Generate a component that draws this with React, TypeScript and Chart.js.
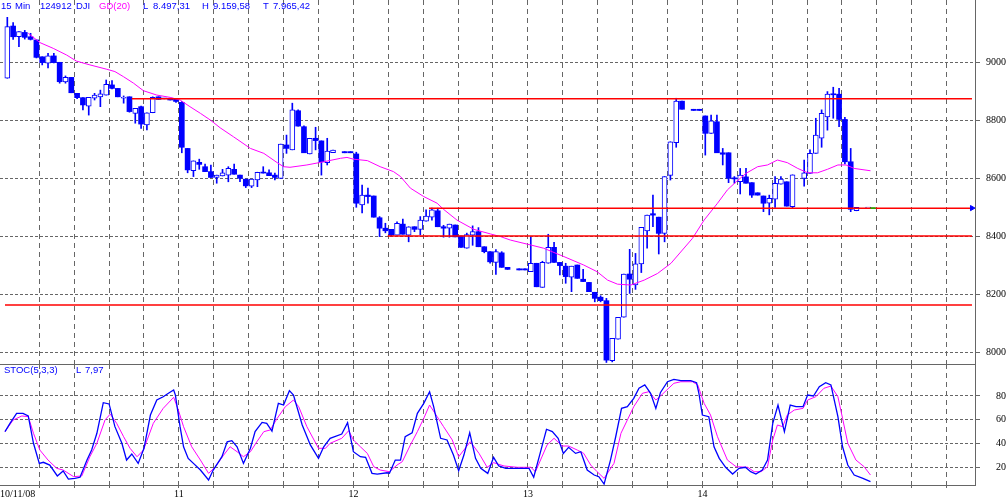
import React, { useEffect, useRef } from 'react';
import { Chart, registerables } from 'chart.js';

Chart.register(...registerables);

const BLUE = '#0000ff';
const MAGENTA = '#ff00ff';
const GRID = '#666666';
const RED = '#ff0000';
const GREEN = '#00c000';
const CLEAR = 'rgba(0,0,0,0)';
const SERIF = '"Liberation Serif", "Times New Roman", serif';
const SANS = '"Liberation Sans", Arial, sans-serif';

// x axis in bar-index units (15-minute bars, 30 per day)
const xMin = -1.257;
const xMax = 166.37;
const gridBars = [5.5, 11.5, 17.5, 23.5, 29.5, 35.5, 41.5, 47.5, 53.5, 59.5, 65.5, 71.5, 77.5, 83.5, 89.5, 95.5, 101.5, 107.5, 113.5, 119.5, 125.5, 131.5, 137.5, 143.5, 149.5, 155.5, 161.5];
const firstDayLabel = '10/11/08';
const dayTickAt = [29.5, 59.5, 89.5, 119.5];
const dayTickText = ['11', '12', '13', '14'];

const priceTicks = [8000, 8200, 8400, 8600, 8800, 9000];
const stochTicks = [20, 40, 60, 80];

const opens = [
  8945, 9125, 9088, 9103, 9088, 9077, 9019, 8997, 9022, 9000, 8932, 8948, 8893, 8878, 8849, 8876, 8881, 8887, 8922, 8910, 8876, 8881, 8824, 8847, 8784, 8826, 8881, 8874, 8876, 8874,
  8862, 8703, 8626, 8655, 8640, 8623, 8603, 8608, 8611, 8631, 8611, 8597, 8573, 8594, 8621, 8619, 8611, 8600, 8715, 8698, 8833, 8778, 8684, 8738, 8729, 8654, 8688, null, 8692, 8692,
  8684, 8508, 8542, 8539, 8464, 8428, 8424, 8404, 8442, 8404, 8433, 8424, 8452, 8466, 8488, 8433, 8428, 8439, 8401, 8359, 8404, 8416, 8364, 8347, 8310, 8343, 8293, null, 8288, 8288,
  8278, 8307, 8224, 8307, 8362, 8310, 8297, 8259, 8301, 8252, 8241, 8207, 8190, 8178, 7971, 8045, 8121, 8270, 8232, 8305, 8419, 8478, 8466, 8410, 8610, 8723, 8866, null, 8838, 8838,
  8815, 8755, 8795, 8688, 8688, 8600, 8588, 8605, 8585, 8550, 8539, 8514, 8528, 8580, 8588, 8502, null, 8600, 8617, 8686, 8738, 8812, 8890, 8890, 8803, 8657, 8488, null, 8497,
];
const highs = [
  9155, 9137, 9106, 9110, 9100, 9077, 9019, 9031, 9031, 9000, 8953, 8948, 8893, 8878, 8879, 8893, 8904, 8939, 8937, 8910, 8884, 8881, 8841, 8849, 8826, 8881, 8881, 8874, 8876, 8874,
  8865, 8703, 8660, 8666, 8649, 8646, 8611, 8631, 8640, 8649, 8611, 8597, 8597, 8621, 8640, 8629, 8618, 8718, 8749, 8859, 8836, 8781, 8738, 8776, 8729, 8738, 8697, null, 8692, 8692,
  8690, 8577, 8566, 8539, 8468, 8445, 8424, 8450, 8459, 8433, 8433, 8468, 8491, 8497, 8497, 8438, 8442, 8439, 8401, 8411, 8436, 8430, 8364, 8347, 8354, 8347, 8293, null, 8288, 8288,
  8397, 8307, 8314, 8407, 8379, 8310, 8307, 8297, 8301, 8286, 8241, 8207, 8195, 8186, 8048, 8121, 8270, 8355, 8341, 8431, 8473, 8542, 8466, 8606, 8726, 8876, 8866, null, 8838, 8838,
  8815, 8818, 8818, 8703, 8688, 8606, 8634, 8634, 8585, 8550, 8539, 8542, 8606, 8606, 8588, 8612, null, 8663, 8698, 8807, 8836, 8899, 8914, 8910, 8810, 8703, 8500, null, 8497,
];
const lows = [
  8945, 9079, 9054, 9080, 9077, 9015, 8991, 8981, 8998, 8928, 8928, 8895, 8875, 8836, 8818, 8870, 8847, 8887, 8908, 8881, 8859, 8828, 8790, 8772, 8767, 8826, 8872, 8874, 8870, 8862,
  8688, 8619, 8606, 8631, 8623, 8603, 8583, 8608, 8588, 8614, 8588, 8568, 8568, 8571, 8618, 8609, 8594, 8600, 8686, 8698, 8780, 8688, 8684, 8698, 8611, 8646, 8688, null, 8688, 8688,
  8500, 8481, 8514, 8466, 8399, 8412, 8400, 8404, 8407, 8381, 8416, 8405, 8452, 8456, 8433, 8397, 8397, 8398, 8362, 8359, 8369, 8364, 8343, 8307, 8269, 8293, 8286, null, 8284, 8284,
  8278, 8226, 8224, 8307, 8310, 8267, 8238, 8209, 8255, 8244, 8209, 8174, 8174, 7965, 7967, 8045, 8121, 8203, 8217, 8275, 8359, 8433, 8339, 8381, 8594, 8707, 8838, null, 8834, 8834,
  8680, 8755, 8688, 8646, 8585, 8583, 8546, 8583, 8534, 8542, 8485, 8474, 8500, 8580, 8504, 8497, null, 8573, 8617, 8686, 8707, 8766, 8807, 8778, 8650, 8485, 8488, null, 8497,
];
const closes = [
  9123, 9088, 9106, 9086, 9079, 9017, 8999, 9022, 8999, 8933, 8948, 8895, 8878, 8853, 8879, 8887, 8891, 8924, 8910, 8881, 8876, 8830, 8841, 8787, 8826, 8879, 8872, 8874, 8870, 8865,
  8707, 8629, 8660, 8648, 8623, 8603, 8611, 8619, 8634, 8614, 8600, 8574, 8597, 8621, 8618, 8609, 8603, 8718, 8703, 8836, 8780, 8688, 8738, 8730, 8657, 8694, 8697, null, 8688, 8688,
  8514, 8542, 8537, 8466, 8428, 8419, 8404, 8445, 8407, 8433, 8424, 8456, 8470, 8491, 8433, 8428, 8442, 8398, 8362, 8406, 8416, 8364, 8347, 8312, 8347, 8293, 8286, null, 8284, 8284,
  8307, 8226, 8310, 8362, 8310, 8299, 8261, 8297, 8255, 8244, 8209, 8186, 8178, 7973, 8048, 8121, 8270, 8252, 8305, 8431, 8473, 8473, 8410, 8606, 8726, 8866, 8838, null, 8834, 8834,
  8755, 8798, 8688, 8683, 8600, 8598, 8611, 8583, 8542, 8542, 8514, 8531, 8583, 8597, 8504, 8612, null, 8619, 8686, 8749, 8824, 8890, 8888, 8803, 8657, 8493, 8500, null, 8497,
];

// GD(20) moving average as [bar, value]
const maPoints = [
  [3.6, 9100], [5.6, 9068], [7.9, 9048], [10.2, 9025], [11.9, 9004], [14.2, 8991], [17.1, 8976], [18.5, 8968], [20.0, 8950], [21.7, 8928], [23.4, 8902], [25.7, 8887], [28.0, 8879], [29.7, 8870], [31.4, 8847], [33.2, 8824], [34.9, 8801], [36.6, 8774], [38.9, 8743], [41.8, 8703], [44.1, 8686], [46.4, 8654], [47.5, 8640], [48.6, 8638], [51.5, 8646], [54.4, 8657], [57.3, 8669], [58.4, 8672], [59.5, 8666], [61.9, 8661], [64.1, 8640], [66.4, 8623], [67.6, 8606], [69.3, 8566], [71.6, 8537], [73.9, 8514], [75.0, 8493], [77.3, 8456], [80.2, 8424], [83.1, 8408], [84.8, 8399], [86.5, 8387], [90.0, 8370], [92.2, 8359], [95.7, 8330], [99.1, 8301], [101.4, 8278], [103.2, 8249], [104.9, 8235], [107.2, 8232], [109.5, 8249], [111.8, 8272], [114.1, 8307], [117.8, 8393], [119.8, 8456], [122.1, 8514], [123.8, 8560], [125.3, 8588], [127.0, 8617], [129.0, 8640], [130.7, 8646], [132.4, 8663], [134.1, 8654], [135.9, 8634], [137.6, 8619], [139.3, 8619], [141.0, 8631], [142.8, 8646], [144.2, 8646], [145.6, 8634], [148.4, 8626],
];

// Stochastic (5,3,3): %K (blue) and %D (magenta) as [bar, value]
const stochK = [
  [-0.4, 50], [0.46, 57], [1.6, 65.4], [2.7, 65.4], [3.6, 63.2], [4.5, 40.2], [5.5, 23.3], [6.2, 24.2], [7.3, 21.9], [8.6, 12.7], [9.6, 16.9], [10.5, 10.1], [11.6, 10.7], [12.5, 11.6], [13.7, 26.1], [14.5, 34.5], [15.4, 48.6], [16.5, 74.4], [17.5, 73.3], [18.5, 54.2], [19.7, 40.2], [20.5, 26.1], [21.4, 31.2], [22.5, 23.3], [23.5, 36], [24.6, 64], [25.7, 76.6], [26.8, 79.4], [27.7, 82.3], [28.6, 85], [28.9, 80.8], [29.7, 54.2], [30.3, 37.3], [31.1, 27.5], [32.0, 23.3], [33.2, 17.7], [34.6, 9.3], [35.4, 17.7], [36.9, 28.9], [37.8, 41.5], [38.6, 42.4], [39.5, 37.3], [40.6, 23.3], [41.8, 36], [42.6, 50], [43.8, 57.8], [44.6, 57], [45.5, 50.5], [46.6, 73.8], [47.5, 72.4], [48.5, 84.5], [49.2, 80.8], [50.7, 55.6], [52.1, 38.8], [53.5, 27.5], [54.4, 37.3], [55.5, 44.4], [57.5, 48], [58.5, 57.5], [59.5, 33.1], [60.7, 28.9], [61.6, 28.4], [62.7, 14.9], [63.6, 14.3], [65.3, 15.4], [65.7, 14.9], [66.7, 26.1], [67.6, 26.1], [68.4, 45.7], [69.6, 49.1], [70.5, 65.4], [71.6, 73.8], [72.6, 83.6], [73.3, 71], [74.5, 44.4], [75.6, 43], [76.7, 30.3], [77.6, 17.1], [78.5, 30.3], [79.5, 49.1], [80.5, 27.5], [81.4, 19.1], [82.6, 14.9], [83.6, 28.4], [84.5, 21.1], [85.7, 19.1], [89.7, 19.1], [90.5, 11.6], [91.6, 31.7], [92.7, 52], [93.7, 50], [94.7, 44.4], [95.6, 31.7], [96.5, 36.8], [97.7, 31.7], [98.6, 33.1], [99.7, 17.7], [100.9, 13.5], [101.7, 12.1], [102.6, 5.9], [103.7, 26.1], [104.6, 45.7], [105.6, 69.6], [106.6, 71], [107.7, 78], [108.6, 86.5], [109.6, 89.3], [110.6, 82.3], [111.5, 69.6], [112.3, 83], [113.5, 92], [114.6, 94], [115.8, 92.9], [117.5, 92.9], [118.5, 91.2], [118.9, 82.3], [119.5, 64], [120.6, 62.6], [121.5, 37.3], [122.4, 27.5], [123.5, 20], [124.7, 14.3], [125.8, 19.1], [126.9, 20], [127.8, 16.3], [128.7, 14.3], [129.8, 17.7], [130.7, 26.1], [131.6, 57], [132.5, 72.4], [133.6, 50], [134.6, 72.4], [135.6, 71], [136.8, 71], [137.6, 80.8], [138.6, 80], [139.6, 87.8], [140.7, 91.2], [141.6, 89.3], [142.8, 62.6], [143.6, 37.3], [144.5, 21.9], [145.6, 13.5], [147.1, 10.7], [148.4, 7.9],
];
const stochD = [
  [-0.4, 50], [1.0, 59.8], [2.5, 63.2], [3.6, 62.6], [4.5, 48.6], [5.6, 34.5], [7.0, 26.1], [8.5, 19.1], [9.6, 17.7], [11.4, 12.1], [12.8, 12.7], [14.2, 28.9], [15.4, 40.2], [16.8, 59.8], [17.7, 64.8], [18.8, 57], [20, 45.7], [21.1, 36], [22.3, 28.9], [23.4, 34.5], [25.1, 57], [26.8, 69.6], [28.6, 78.9], [29.4, 68.2], [30.3, 54.2], [31.7, 37.3], [33.2, 26.1], [34.6, 14.9], [35.7, 20], [37.2, 30.3], [38.3, 37.3], [39.5, 33.1], [40.6, 28.9], [41.8, 33.1], [42.9, 41.5], [44.1, 50], [45.2, 51.4], [46.4, 61.2], [47.8, 71], [49.2, 76.6], [50.1, 71], [51.5, 54.2], [53.5, 36], [54.7, 36], [55.5, 40.2], [57.5, 44.4], [58.7, 50.8], [59.5, 43], [60.7, 37.3], [61.9, 31.7], [63.0, 20.5], [64.1, 17.7], [65.7, 16.3], [67, 21.9], [67.9, 24.7], [69.3, 38.8], [70.5, 50], [71.6, 61.2], [72.6, 72.4], [73.9, 62.6], [75.0, 54.2], [76.5, 43], [77.6, 28.9], [79.6, 41.5], [81.1, 31.7], [82.5, 20], [83.6, 23.9], [85.4, 21.1], [87.7, 20], [90, 20], [90.8, 16.3], [92.8, 38.8], [94, 44.4], [95.4, 37.9], [96.5, 37.9], [98, 34.5], [99.1, 31.7], [100.3, 21.9], [101.4, 16.3], [102.6, 10.7], [104.3, 23.3], [105.5, 48.6], [106.6, 59.8], [107.7, 71], [109.2, 82.3], [110.3, 83.6], [111.5, 76.6], [112.3, 80], [114.6, 90.7], [115.8, 92], [117.8, 92], [118.7, 89.3], [119.8, 73.8], [120.9, 64], [122.1, 45.7], [123.8, 26.1], [125.3, 20.5], [127.3, 20], [128.4, 16.3], [129.6, 16.3], [130.7, 20.5], [131.6, 43], [132.4, 55.6], [133.3, 54.2], [134.1, 64], [135.3, 68.2], [136.8, 69.6], [137.6, 76.6], [139.0, 79.4], [140.4, 86.5], [141.6, 88.4], [142.8, 79.4], [143.6, 61.2], [144.5, 40.2], [145.9, 26.1], [147.3, 20.5], [148.4, 13.5],
];

// Horizontal trend lines (value, first bar)
const levelValues = [8874, 8497, 8401, 8163];
const levelStarts = [21.4, 72.5, 65.4, -0.4];
const levelEnd = 165.85;
const lastPrice = 8497.31;
const lastBar = 148;

const headerTop = [
  { t: '15', x: 1, c: BLUE }, { t: 'Min', x: 15, c: BLUE }, { t: '124912', x: 40, c: BLUE }, { t: 'DJI', x: 76, c: BLUE },
  { t: 'GD(20)', x: 99, c: MAGENTA }, { t: 'L', x: 143, c: BLUE }, { t: '8.497,31', x: 153, c: BLUE },
  { t: 'H', x: 202, c: BLUE }, { t: '9.159,58', x: 213, c: BLUE }, { t: 'T', x: 263, c: BLUE }, { t: '7.965,42', x: 273, c: BLUE },
];
const headerStoch = [
  { t: 'STOC(5,3,3)', x: 4, c: BLUE }, { t: 'L', x: 76, c: BLUE }, { t: '7,97', x: 85, c: BLUE },
];

function setTicks(values: number[]) {
  return (scale: any) => {
    scale.ticks = values.map((v) => ({ value: v }));
  };
}

function priceConfig(): any {
  const idx: number[] = [];
  opens.forEach((o, i) => { if (o !== null) idx.push(i); });
  const up = idx.map((i) => (closes[i] as number) >= (opens[i] as number));
  const wicks = idx.map((i) => ({ x: i, y: [lows[i], highs[i]] }));
  const bodies = idx.map((i) => ({ x: i, y: [opens[i], closes[i]] }));

  const levelSets = levelValues.map((v, k) => ({
    type: 'line',
    data: [{ x: levelStarts[k], y: v }, { x: levelEnd, y: v }],
    borderColor: RED,
    borderWidth: 1.5,
    pointRadius: 0,
    order: 0,
  }));

  return {
    type: 'bar',
    data: {
      datasets: [
        { type: 'bar', data: wicks, backgroundColor: BLUE, barThickness: 1, grouped: false, order: 4 },
        {
          type: 'bar', data: bodies,
          backgroundColor: (c: any) => (up[c.dataIndex] ? '#ffffff' : BLUE),
          borderColor: BLUE,
          borderWidth: (c: any) => (up[c.dataIndex] ? 1 : 0),
          borderSkipped: false, barThickness: 5, minBarLength: 1, grouped: false, order: 3,
        },
        { type: 'line', data: maPoints.map(([x, y]) => ({ x, y })), borderColor: MAGENTA, borderWidth: 1, pointRadius: 0, order: 2 },
        ...levelSets,
        { type: 'line', data: [{ x: lastBar + 0.4, y: lastPrice }, { x: lastBar + 1.3, y: lastPrice }], borderColor: GREEN, borderWidth: 1.5, pointRadius: 0, order: -1 },
        { type: 'scatter', data: [{ x: levelEnd, y: lastPrice }], pointStyle: 'triangle', rotation: 90, pointRadius: 3, pointHoverRadius: 3, backgroundColor: BLUE, borderColor: BLUE, borderWidth: 1, order: -2 },
      ],
    },
    options: {
      responsive: false,
      animation: false,
      events: [],
      layout: { padding: 0, autoPadding: false },
      plugins: { legend: { display: false }, tooltip: { enabled: false } },
      scales: {
        x: {
          type: 'linear', min: xMin, max: xMax, offset: false, beginAtZero: false,
          afterBuildTicks: setTicks(gridBars),
          afterFit: (s: any) => { s.height = 1; s.paddingLeft = 0; s.paddingRight = 0; },
          ticks: { display: false },
          grid: { color: GRID, lineWidth: 1, drawTicks: false, offset: false },
          border: { display: true, color: GRID, width: 1, dash: [5, 4] },
        },
        y: {
          type: 'linear', position: 'right', min: 7959.7, max: 9214.8, beginAtZero: false,
          afterBuildTicks: setTicks(priceTicks),
          afterFit: (s: any) => { s.width = 31; s.paddingTop = 0; s.paddingBottom = 0; },
          ticks: { color: '#000', font: { family: SERIF, size: 10 }, padding: 2, crossAlign: 'far', callback: (v: any) => String(v) },
          grid: { color: GRID, lineWidth: 1, drawTicks: true, tickLength: 5, tickColor: GRID },
          border: { display: true, color: GRID, width: 1, dash: [3, 2] },
        },
      },
    },
  };
}

function stochConfig(): any {
  const xTickValues = [xMin, ...gridBars, xMax];
  const last = xTickValues.length - 1;
  const labelFor = (v: number) => {
    if (Math.abs(v - xMin) < 1e-6) return firstDayLabel;
    const k = dayTickAt.indexOf(v);
    return k >= 0 ? dayTickText[k] : '';
  };
  const gridColor = (c: any) => (c.index === 0 || c.index === last ? CLEAR : GRID);
  return {
    type: 'line',
    data: {
      datasets: [
        { data: stochD.map(([x, y]) => ({ x, y })), borderColor: MAGENTA, borderWidth: 1, pointRadius: 0, order: 1 },
        { data: stochK.map(([x, y]) => ({ x, y })), borderColor: BLUE, borderWidth: 1.3, pointRadius: 0, order: 0 },
      ],
    },
    options: {
      responsive: false,
      animation: false,
      events: [],
      layout: { padding: 0, autoPadding: false },
      plugins: { legend: { display: false }, tooltip: { enabled: false } },
      scales: {
        x: {
          type: 'linear', min: xMin, max: xMax, offset: false,
          afterBuildTicks: setTicks(xTickValues),
          afterFit: (s: any) => { s.height = 18; s.paddingLeft = 0; s.paddingRight = 0; },
          ticks: {
            autoSkip: false, maxRotation: 0, minRotation: 0, align: 'inner', padding: 0,
            color: '#000', font: { family: SERIF, size: 10 },
            callback: (v: any) => labelFor(Number(v)),
          },
          grid: { color: gridColor, tickColor: gridColor, lineWidth: 1, drawTicks: true, tickLength: 3, offset: false },
          border: { display: true, color: GRID, width: 1, dash: [5, 4] },
        },
        y: {
          type: 'linear', position: 'right', min: 5.1, max: 106.93,
          afterBuildTicks: setTicks(stochTicks),
          afterFit: (s: any) => { s.width = 31; s.paddingTop = 0; s.paddingBottom = 0; },
          ticks: { color: '#000', font: { family: SERIF, size: 10 }, padding: 12, crossAlign: 'far', callback: (v: any) => String(v) },
          grid: { color: GRID, lineWidth: 1, drawTicks: true, tickLength: 5, tickColor: GRID },
          border: { display: true, color: GRID, width: 1, dash: [3, 2] },
        },
      },
    },
  };
}

const textStyle = (x: number, top: number, c: string): React.CSSProperties => ({
  position: 'absolute', left: x, top, color: c, fontFamily: SANS, fontSize: '9.5px', lineHeight: '9.5px', whiteSpace: 'pre',
});

export default function App() {
  const priceRef = useRef<HTMLCanvasElement>(null);
  const stochRef = useRef<HTMLCanvasElement>(null);

  useEffect(() => {
    const c1 = new Chart(priceRef.current as HTMLCanvasElement, priceConfig());
    const c2 = new Chart(stochRef.current as HTMLCanvasElement, stochConfig());
    return () => { c1.destroy(); c2.destroy(); };
  }, []);

  return (
    <div style={{ position: 'absolute', left: 0, top: 0, width: 1006, height: 503, background: '#ffffff', overflow: 'hidden' }}>
      <canvas ref={priceRef} width={1006} height={365} style={{ position: 'absolute', left: 0, top: 0 }} />
      <canvas ref={stochRef} width={1006} height={139} style={{ position: 'absolute', left: 0, top: 364 }} />
      {headerTop.map((h, k) => (
        <span key={'h' + k} style={textStyle(h.x, 1, h.c)}>{h.t}</span>
      ))}
      {headerStoch.map((h, k) => (
        <span key={'s' + k} style={textStyle(h.x, 364.7, h.c)}>{h.t}</span>
      ))}
    </div>
  );
}
